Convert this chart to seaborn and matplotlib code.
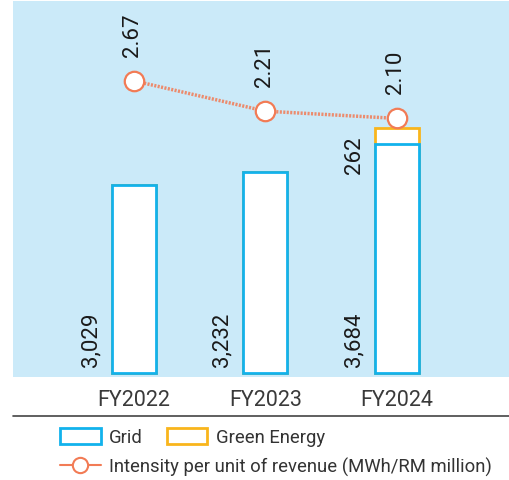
import matplotlib
matplotlib.use("Agg")
import matplotlib.pyplot as plt
import seaborn as sns
import pandas as pd
from matplotlib.lines import Line2D
from matplotlib.patches import Patch

years = ["FY2022", "FY2023", "FY2024"]
grid = [3029, 3232, 3684]
green = [0, 0, 262]
intensity = [2.67, 2.21, 2.10]
grid_labels = ["3,029", "3,232", "3,684"]
green_labels = ["", "", "262"]
intensity_labels = ["2.67", "2.21", "2.10"]

BG = "#CBEAF9"
BLUE = "#12B2EC"
ORANGE = "#F9B51C"
LINE = "#F27B55"

sns.set_theme(style="white")
plt.rcParams["font.family"] = ["Roboto", "DejaVu Sans"]

df = pd.DataFrame({
    "year": years,
    "grid": grid,
    "total": [g + e for g, e in zip(grid, green)],
})

fig = plt.figure(figsize=(5.10, 4.81), dpi=100)
ax = fig.add_axes([13 / 510, 1 - 378 / 481, 497 / 510, 376 / 481])
ax.set_facecolor(BG)

# total bar (orange edge) drawn first, grid bar over it
sns.barplot(data=df, x="year", y="total", color="white", edgecolor=ORANGE,
            linewidth=2, width=0.335, saturation=1, ax=ax)
sns.barplot(data=df, x="year", y="grid", color="white", edgecolor=BLUE,
            linewidth=2, width=0.335, saturation=1, ax=ax)

ax.set_xlim(-0.92, 2.86)
ax.set_ylim(-65, 5980)
ax.set_yticks([])
ax.set_xlabel("")
ax.set_ylabel("")
for s in ax.spines.values():
    s.set_visible(False)
ax.tick_params(axis="x", length=0, pad=9, labelsize=15.5, labelcolor="#3a3a3a")

for i, lab in enumerate(grid_labels):
    ax.text(i - 0.33, 110, lab, rotation=90, ha="center", va="bottom",
            fontsize=16, color="#1a1a1a")
for i, lab in enumerate(green_labels):
    if lab:
        ax.annotate(lab, (i - 0.32, grid[i] + green[i]), xytext=(0, -6),
                    textcoords="offset points", rotation=90, ha="center",
                    va="top", fontsize=16, color="#1a1a1a")

ax2 = ax.twinx()
ax2.set_ylim(-1.82, 3.88)
ax2.set_yticks([])
for s in ax2.spines.values():
    s.set_visible(False)
xs = list(range(len(years)))
ax2.plot(xs, intensity, color=LINE, lw=2.5, linestyle=(0, (0.6, 0.4)), alpha=0.85,
         zorder=3)
ax2.plot(xs, intensity, linestyle="none", marker="o", ms=14, mfc="white",
         mec=LINE, mew=1.6, zorder=4)
for i, lab in enumerate(intensity_labels):
    ax2.annotate(lab, (i, intensity[i]), xytext=(-1, 18), textcoords="offset points",
                 rotation=90, ha="center", va="bottom", fontsize=16,
                 color="#1a1a1a")

fig.add_artist(Line2D([13 / 510, 1], [1 - 417 / 481, 1 - 417 / 481],
                      color="#444444", lw=1.2))

h1 = [Patch(facecolor="none", edgecolor=BLUE, lw=2),
      Patch(facecolor="none", edgecolor=ORANGE, lw=2)]
fig.legend(h1, ["Grid", "Green Energy"], loc="center left",
           bbox_to_anchor=(60 / 510, 1 - 438 / 481), ncol=2,
           frameon=False, fontsize=13.3, borderpad=0, borderaxespad=0,
           handlelength=2.2, handleheight=1.0, handletextpad=0.45,
           columnspacing=1.3, labelcolor="#333333")
h2 = [Line2D([0], [0], color=LINE, lw=1.5, marker="o", ms=11, mfc="white",
             mec=LINE, mew=1.5)]
fig.legend(h2, ["Intensity per unit of revenue (MWh/RM million)"],
           loc="center left", bbox_to_anchor=(60 / 510, 1 - 467 / 481),
           frameon=False, fontsize=13.3, borderpad=0, borderaxespad=0,
           handlelength=2.2, handletextpad=0.45, labelcolor="#333333")

fig.savefig("out.png", dpi=100)
